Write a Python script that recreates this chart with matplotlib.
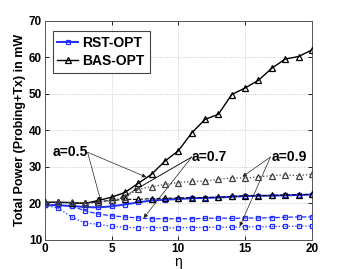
import numpy as np
import matplotlib
matplotlib.use("Agg")
import matplotlib.pyplot as plt

# eta values and power curves (mW)
eta = list(range(21))

rst_a05 = [19.5, 19.5, 19.3, 19.0, 18.9, 19.2, 19.7, 20.3, 20.8, 21.0, 21.2,
           21.4, 21.5, 21.6, 21.8, 22.0, 22.1, 22.1, 22.2, 22.3, 22.4]
rst_a07 = [19.6, 19.5, 19.3, 18.0, 17.1, 16.6, 16.3, 16.0, 15.8, 15.8, 15.8,
           15.8, 15.9, 16.0, 15.9, 16.0, 16.0, 16.1, 16.2, 16.3, 16.3]
rst_a09 = [19.5, 18.7, 16.3, 14.6, 14.3, 13.7, 13.5, 13.3, 13.4, 13.3, 13.3,
           13.4, 13.4, 13.5, 13.5, 13.6, 13.6, 13.7, 13.7, 13.8, 13.8]

bas_a05 = [20.3, 20.3, 20.2, 20.0, 20.8, 21.7, 23.0, 25.5, 28.0, 31.6, 34.4,
           39.3, 43.0, 44.4, 49.8, 51.6, 53.7, 57.0, 59.5, 60.2, 62.0]
bas_a07 = [20.3, 20.3, 20.2, 20.0, 20.5, 20.8, 21.1, 21.1, 21.3, 21.4, 21.5,
           21.6, 21.6, 21.7, 21.9, 22.1, 22.1, 22.2, 22.3, 22.4, 22.5]
bas_a09 = [20.3, 20.3, 20.3, 20.0, 20.3, 20.8, 21.7, 23.9, 24.6, 25.2, 25.7,
           26.0, 26.1, 26.6, 27.0, 26.9, 27.3, 27.6, 27.8, 27.6, 28.0]

plt.rcParams['font.family'] = ['Liberation Sans', 'DejaVu Sans']
plt.rcParams['font.weight'] = 'bold'

fig = plt.figure(figsize=(3.45, 2.69), dpi=100)
ax = fig.add_axes([0.130, 0.108, 0.774, 0.815])

blue = '#1f2fff'
ms_sq = 3.4
ms_tr = 4.8

ax.plot(eta, rst_a05, '-', color=blue, lw=1.4, marker='s', ms=ms_sq,
        mfc='none', mew=0.9, label='RST-OPT', zorder=3)
ax.plot(eta, rst_a07, '--', color=blue, lw=0.9, marker='s', ms=ms_sq,
        mfc='none', mew=0.9, zorder=3)
ax.plot(eta, rst_a09, ':', color=blue, lw=0.9, marker='s', ms=ms_sq,
        mfc='none', mew=0.9, zorder=3)

ax.plot(eta, bas_a05, '-', color='k', lw=1.0, marker='^', ms=ms_tr,
        mfc='none', mew=0.9, label='BAS-OPT', zorder=4)
ax.plot(eta, bas_a07, '--', color='k', lw=0.8, marker='^', ms=ms_tr,
        mfc='none', mew=0.9, zorder=4)
ax.plot(eta, bas_a09, ':', color='#444444', lw=0.9, marker='^', ms=ms_tr,
        mfc='none', mew=0.9, zorder=4)

ax.set_xlim(0, 20)
ax.set_ylim(10, 70)
ax.set_xticks([0, 5, 10, 15, 20])
ax.set_yticks([10, 20, 30, 40, 50, 60, 70])
ax.grid(True, ls=':', color='#bbbbbb', lw=0.6)
ax.tick_params(direction='in', length=3, width=0.6, labelsize=8.5,
               top=True, right=True, pad=2)
for lab in ax.get_xticklabels() + ax.get_yticklabels():
    lab.set_fontweight('bold')
for sp in ax.spines.values():
    sp.set_linewidth(0.7)
    sp.set_color('#555555')

ax.set_xlabel('η', fontsize=10, labelpad=0)
ax.set_ylabel('Total Power (Probing+Tx) in mW', fontsize=9, fontweight='bold',
              labelpad=2)

leg = ax.legend(loc='upper left', bbox_to_anchor=(0.029, 0.954),
                borderaxespad=0, fancybox=False, edgecolor='#444444',
                fontsize=10, handlelength=1.5, handletextpad=0.3,
                borderpad=0.35, labelspacing=0.3, framealpha=1)
leg.get_frame().set_linewidth(0.8)
for t in leg.get_texts():
    t.set_fontweight('bold')

arrow = dict(arrowstyle='-|>', color='#222222', lw=0.5, mutation_scale=6,
             shrinkA=0, shrinkB=0)
txt = dict(fontsize=10, fontweight='bold', va='center')

ax.text(0.6, 34.0, 'a=0.5', ha='left', **txt)
for tip in [(7.6, 27.2), (4.2, 20.5)]:
    ax.annotate('', xy=tip, xytext=(3.2, 34.0), arrowprops=arrow)

ax.text(11.0, 32.7, 'a=0.7', ha='left', **txt)
for tip in [(5.6, 21.2), (6.6, 23.4), (7.4, 16.0)]:
    ax.annotate('', xy=tip, xytext=(11.0, 32.7), arrowprops=arrow)

ax.text(17.0, 32.7, 'a=0.9', ha='left', **txt)
for tip in [(14.8, 27.3), (14.6, 13.7)]:
    ax.annotate('', xy=tip, xytext=(16.9, 32.7), arrowprops=arrow)

fig.savefig('out.png', dpi=100)
